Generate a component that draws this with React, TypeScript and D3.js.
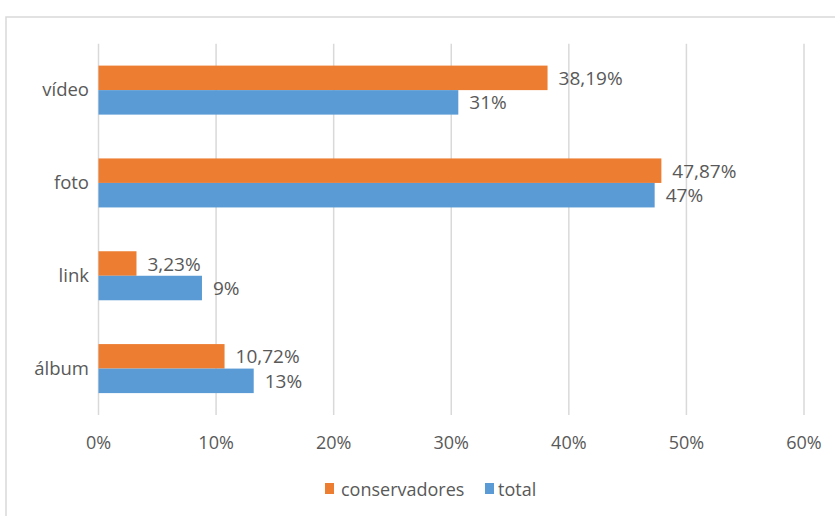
import React from "react";
import * as d3 from "d3";

const categories = ["vídeo", "foto", "link", "álbum"];
const seriesNames = ["conservadores", "total"];
const conservadores = [38.19, 47.87, 3.23, 10.72];
const total = [30.6, 47.3, 8.8, 13.2];
const xTicks = [0, 10, 20, 30, 40, 50, 60];
const colors = ["#ED7D31", "#5B9BD5"];

const W = 835;
const H = 516;
const FONT = "'Open Sans', 'Liberation Sans', Arial, sans-serif";
const TEXT = "#595959";
const GRID = "#d9d9d9";

export default function App() {
  const x = d3.scaleLinear().domain([0, 60]).range([98.5, 804]);
  const y = d3
    .scaleBand<string>()
    .domain(categories)
    .range([43.7, 415])
    .paddingInner(0.472)
    .paddingOuter(0.236);
  const sub = d3.scaleBand<string>().domain(seriesNames).range([0, y.bandwidth()]);
  const values = [conservadores, total];
  const fmtOrange = (v: number) => d3.format(".2f")(v).replace(".", ",") + "%";
  const fmtBlue = (v: number) => d3.format(".0f")(v) + "%";
  const fmts = [fmtOrange, fmtBlue];

  return (
    <svg
      width={W}
      height={H}
      style={{ position: "absolute", left: 0, top: 0, background: "#fff" }}
      fontFamily={FONT}
    >
      <rect x={6} y={17} width={W + 10} height={H + 10} fill="#fff" stroke={GRID} strokeWidth={1.5} />
      {xTicks.map((t) => (
        <g key={t}>
          <line x1={x(t)} x2={x(t)} y1={43.7} y2={415} stroke={GRID} strokeWidth={1.5} />
          <text x={x(t)} y={442} textAnchor="middle" dominantBaseline="central" fontSize={18} fill={TEXT}>
            {t + "%"}
          </text>
        </g>
      ))}
      {categories.map((c, i) => (
        <g key={c}>
          <text
            x={89}
            y={(y(c) as number) + y.bandwidth() / 2 - 1.5}
            textAnchor="end"
            dominantBaseline="central"
            fontSize={18.5}
            fill={TEXT}
          >
            {c}
          </text>
          {seriesNames.map((s, j) => {
            const v = values[j][i];
            const by = (y(c) as number) + (sub(s) as number);
            return (
              <g key={s}>
                <rect x={x(0)} y={by} width={x(v) - x(0)} height={sub.bandwidth()} fill={colors[j]} />
                <text
                  x={x(v) + 11}
                  y={by + sub.bandwidth() / 2}
                  dominantBaseline="central"
                  fontSize={19}
                  fill={TEXT}
                >
                  {fmts[j](v)}
                </text>
              </g>
            );
          })}
        </g>
      ))}
      <g>
        <rect x={325} y={483} width={9} height={11} fill={colors[0]} />
        <text x={341} y={488.5} dominantBaseline="central" fontSize={18} fill={TEXT}>
          {seriesNames[0]}
        </text>
        <rect x={485} y={483} width={9} height={11} fill={colors[1]} />
        <text x={498} y={488.5} dominantBaseline="central" fontSize={18} fill={TEXT}>
          {seriesNames[1]}
        </text>
      </g>
    </svg>
  );
}
